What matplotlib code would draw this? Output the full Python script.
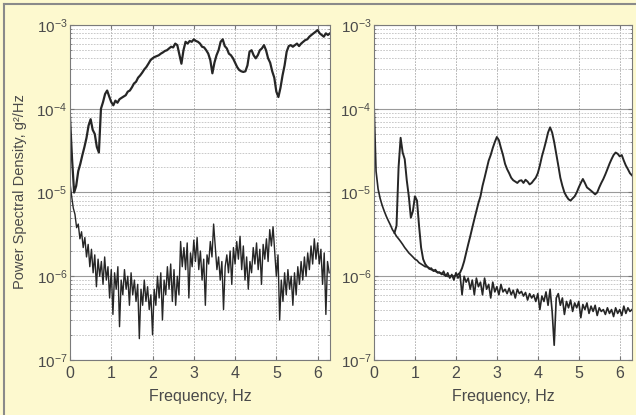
import numpy as np
import matplotlib
matplotlib.use("Agg")
import matplotlib.pyplot as plt
from matplotlib.lines import Line2D
from matplotlib.ticker import LogLocator, FixedLocator, NullFormatter

plt.rcParams["font.family"] = ["Liberation Sans", "DejaVu Sans"]
plt.rcParams["mathtext.fontset"] = "custom"
plt.rcParams["mathtext.rm"] = "Liberation Sans"
plt.rcParams["mathtext.it"] = "Liberation Sans:italic"
plt.rcParams["mathtext.bf"] = "Liberation Sans:bold"

# PSD values are given in micro-g^2/Hz (1e-6 g^2/Hz)
UNIT = 1e-6

# ---- left panel -------------------------------------------------------
left_upper_freq = np.linspace(0.0, 6.3, 127)
left_upper_psd = [
    80, 25, 10, 12, 18, 22, 28, 35, 45, 63,
    75, 56, 50, 35, 30, 100, 120, 150, 165, 140,
    120, 110, 125, 118, 130, 135, 140, 145, 160, 165,
    180, 200, 210, 235, 250, 270, 295, 315, 345, 380,
    400, 415, 425, 435, 455, 470, 490, 500, 525, 550,
    540, 600, 575, 445, 345, 500, 630, 600, 645, 630,
    675, 645, 630, 600, 550, 540, 500, 455, 380, 265,
    355, 435, 500, 630, 675, 560, 525, 455, 435, 400,
    355, 315, 290, 280, 275, 280, 330, 480, 500, 435,
    400, 435, 500, 525, 575, 500, 400, 355, 280, 235,
    160, 138, 178, 250, 330, 480, 560, 575, 550, 575,
    600, 560, 600, 630, 660, 675, 725, 760, 795, 830,
    870, 795, 760, 725, 795, 760, 795,
]

left_lower_freq = np.linspace(0.0, 6.28, 158)
left_lower_psd = [
    13, 9, 6.5, 5.5, 3.8, 4.2, 2.8, 3.4, 2.2, 2.9,
    1.7, 2.4, 1.3, 2.1, 1.1, 1.8, 0.75, 1.6, 1.0, 1.5,
    0.8, 1.7, 0.9, 1.3, 0.55, 1.2, 0.35, 1.1, 0.7, 1.3,
    0.25, 0.9, 0.6, 1.2, 0.7, 1.0, 0.45, 1.1, 0.6, 0.9,
    0.5, 0.8, 0.18, 0.7, 0.45, 0.9, 0.5, 0.75, 0.4, 0.6,
    0.2, 0.7, 0.45, 1.0, 0.55, 1.1, 0.3, 0.9, 0.6, 1.3,
    0.7, 1.4, 0.5, 1.2, 0.45, 1.0, 0.6, 2.6, 1.3, 2.2,
    1.2, 2.5, 0.55, 1.9, 1.3, 2.7, 1.5, 2.9, 1.2, 2.0,
    0.9, 1.6, 0.45, 1.8, 1.4, 2.6, 1.7, 4.2, 2.2, 1.2,
    1.7, 0.9, 1.5, 0.4, 1.3, 1.8, 1.1, 2.0, 0.8, 2.2,
    1.4, 2.6, 1.6, 3.0, 1.2, 2.3, 0.9, 1.7, 0.7, 1.5,
    1.1, 2.2, 1.4, 2.5, 1.2, 2.1, 0.8, 2.4, 1.6, 2.8,
    1.5, 3.6, 2.3, 3.9, 2.0, 1.0, 1.8, 0.3, 0.9, 0.5,
    1.1, 0.6, 1.2, 0.7, 1.0, 0.45, 1.1, 0.6, 1.3, 0.8,
    1.5, 0.9, 1.7, 1.0, 1.9, 1.2, 2.3, 1.4, 2.8, 1.6,
    2.5, 1.4, 2.1, 0.8, 1.9, 0.35, 1.5, 1.1,
]

# ---- right panel ------------------------------------------------------
right_lower_freq = np.linspace(0.0, 6.3, 127)
right_lower_psd = [
    120, 18, 11, 8.5, 7, 6, 5.2, 4.6, 4.1, 3.6,
    3.3, 3.0, 2.8, 2.6, 2.4, 2.2, 2.05, 1.9, 1.8, 1.7,
    1.6, 1.55, 1.45, 1.4, 1.35, 1.3, 1.3, 1.22, 1.25, 1.15,
    1.2, 1.1, 1.12, 1.05, 1.15, 1.0, 1.1, 0.95, 1.05, 0.9,
    1.1, 0.95, 1.05, 0.6, 1.0, 0.85, 0.95, 0.7, 0.9, 0.6,
    0.95, 0.75, 0.85, 0.6, 0.95, 0.7, 0.8, 0.55, 0.85, 0.65,
    0.75, 0.6, 0.8, 0.65, 0.7, 0.62, 0.72, 0.6, 0.68, 0.55,
    0.7, 0.62, 0.66, 0.58, 0.64, 0.52, 0.62, 0.55, 0.6, 0.5,
    0.62, 0.4, 0.58, 0.5, 0.65, 0.45, 0.7, 0.38, 0.15, 0.55,
    0.62, 0.45, 0.55, 0.35, 0.5, 0.42, 0.52, 0.38, 0.48, 0.42,
    0.5, 0.32, 0.46, 0.4, 0.48, 0.36, 0.44, 0.38, 0.45, 0.34,
    0.42, 0.38, 0.4, 0.35, 0.42, 0.36, 0.4, 0.33, 0.42, 0.36,
    0.4, 0.34, 0.44, 0.36, 0.42, 0.38, 0.4,
]

right_upper_freq = np.linspace(0.5, 6.3, 117)
right_upper_psd = [
    3.3, 4.0, 20, 45, 30, 25, 14, 9, 5, 6,
    9, 8, 4, 2.2, 1.6, 1.4, 1.3, 1.25, 1.2, 1.18,
    1.15, 1.12, 1.1, 1.08, 1.05, 1.02, 1.0, 1.0, 1.0, 1.0,
    1.02, 1.05, 1.1, 1.25, 1.5, 1.9, 2.4, 3.0, 3.8, 4.8,
    6, 7.5, 9, 12, 15, 19, 24, 28, 34, 40,
    46, 42, 34, 28, 22, 19, 17, 15, 14, 13.5,
    13, 13.8, 14, 13, 14.2, 13.5, 12.5, 13, 14, 15,
    17, 21, 27, 33, 41, 52, 60, 52, 40, 29,
    21, 15, 12, 10, 9, 8.3, 8, 8.5, 9, 10,
    11.5, 13, 14.5, 13, 11.5, 11, 10.5, 10, 9.5, 10,
    11.5, 13, 14.5, 16.5, 19, 22, 25, 28, 30, 29,
    27, 28, 24, 21, 19, 17, 16,
]

freq_ticks = [0, 1, 2, 3, 4, 5, 6]

BG = "#fdf9cf"
INK = "#262626"
TXT = "#4a4a4a"

fig = plt.figure(figsize=(6.36, 4.15), dpi=100, facecolor=BG)

ax_l = fig.add_axes([70 / 636, 55 / 415, 260 / 636, 335 / 415])
ax_r = fig.add_axes([374 / 636, 55 / 415, 258 / 636, 335 / 415])


def style(ax):
    ax.set_facecolor("white")
    ax.set_yscale("log")
    ax.set_ylim(1e-7, 1e-3)
    ax.set_xlim(0, 6.3)
    ax.xaxis.set_major_locator(FixedLocator(freq_ticks))
    ax.yaxis.set_major_locator(LogLocator(base=10, numticks=10))
    ax.yaxis.set_minor_locator(LogLocator(base=10, subs=np.arange(2, 10), numticks=20))
    ax.yaxis.set_minor_formatter(NullFormatter())
    ax.grid(True, which="major", axis="y", color="#9a9a9a", lw=0.8, ls="-")
    ax.grid(True, which="minor", axis="y", color="#c0c0c0", lw=0.6, ls=(0, (2, 1.5)))
    ax.grid(True, which="major", axis="x", color="#a8a8a8", lw=0.6, ls=(0, (2, 1.5)))
    ax.tick_params(which="both", direction="in", top=True, right=True,
                   colors="#777777", labelcolor=TXT)
    ax.tick_params(which="major", length=3)
    ax.tick_params(which="minor", length=1.5)
    ax.tick_params(axis="y", labelsize=11, pad=2)
    ax.tick_params(axis="x", labelsize=11.5, pad=4)
    for s in ax.spines.values():
        s.set_color("#7a7a7a")
        s.set_linewidth(0.8)
    ax.set_axisbelow(True)
    ax.set_xlabel("Frequency, Hz", fontsize=11.5, color=TXT, labelpad=6)


style(ax_l)
style(ax_r)

ax_l.plot(left_upper_freq, np.array(left_upper_psd) * UNIT, color=INK, lw=1.6)
ax_l.plot(left_lower_freq, np.array(left_lower_psd) * UNIT, color=INK, lw=1.0)

ax_r.plot(right_lower_freq, np.array(right_lower_psd) * UNIT, color=INK, lw=1.2)
ax_r.plot(right_upper_freq, np.array(right_upper_psd) * UNIT, color=INK, lw=1.4)

fig.text(20 / 636, 1 - 192 / 415, "Power Spectral Density, g\u00b2/Hz",
         rotation=90, ha="center", va="center", fontsize=10.5, color=TXT)

# frame lines along the top and left edges
fig.add_artist(Line2D([4 / 636, 1], [1 - 4 / 415, 1 - 4 / 415],
                      transform=fig.transFigure, color="#8a8a8a", lw=1.5))
fig.add_artist(Line2D([4 / 636, 4 / 636], [0, 1 - 4 / 415],
                      transform=fig.transFigure, color="#8a8a8a", lw=1.5))

fig.savefig("out.png", dpi=100, facecolor=BG)
